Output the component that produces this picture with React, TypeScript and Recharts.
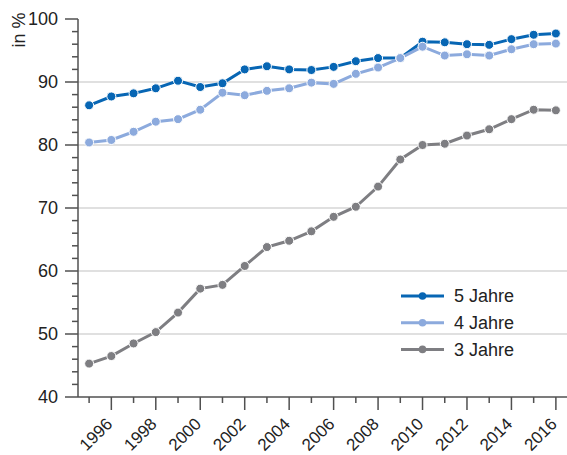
import React from 'react';
import { LineChart, Line, XAxis, YAxis, ReferenceLine } from 'recharts';

const years = [1995, 1996, 1997, 1998, 1999, 2000, 2001, 2002, 2003, 2004, 2005, 2006, 2007, 2008, 2009, 2010, 2011, 2012, 2013, 2014, 2015, 2016];
const fiveYears = [86.3, 87.7, 88.2, 89.0, 90.2, 89.2, 89.8, 92.0, 92.5, 92.0, 91.9, 92.4, 93.3, 93.8, 93.8, 96.4, 96.3, 96.0, 95.9, 96.8, 97.5, 97.7];
const fourYears = [80.4, 80.8, 82.1, 83.7, 84.1, 85.6, 88.3, 87.9, 88.6, 89.0, 89.9, 89.7, 91.3, 92.3, 93.8, 95.6, 94.2, 94.4, 94.2, 95.2, 96.0, 96.1];
const threeYears = [45.3, 46.5, 48.5, 50.3, 53.4, 57.2, 57.8, 60.8, 63.8, 64.8, 66.3, 68.6, 70.2, 73.4, 77.7, 80.0, 80.2, 81.5, 82.5, 84.1, 85.6, 85.5];
const yTicks = [40, 42, 44, 46, 48, 50, 52, 54, 56, 58, 60, 62, 64, 66, 68, 70, 72, 74, 76, 78, 80, 82, 84, 86, 88, 90, 92, 94, 96, 98, 100];
const gridValues = [50, 60, 70, 80, 90];
const yAxisLabel = 'in %';

const series = [
  { key: 'five', name: '5 Jahre', color: '#0766b4' },
  { key: 'four', name: '4 Jahre', color: '#8caadd' },
  { key: 'three', name: '3 Jahre', color: '#7e7e82' },
];

const data = years.map((year, i) => ({
  year,
  five: fiveYears[i],
  four: fourYears[i],
  three: threeYears[i],
}));

const AXIS = '#505050';
const TEXT = '#222222';
const FONT = '"Liberation Sans", Arial, sans-serif';

const XTick = (props: any) => {
  const { x, y, payload } = props;
  const major = payload.value % 2 === 0;
  const tx = x + 2;
  const ty = y + 28;
  return (
    <g>
      <line x1={x} x2={x} y1={y} y2={y + (major ? 13 : 6)} stroke={AXIS} strokeWidth={1.5} />
      {major && (
        <text
          x={tx}
          y={ty}
          textAnchor="end"
          fontSize={17}
          fontFamily={FONT}
          fill={TEXT}
          transform={`rotate(-45 ${tx} ${ty})`}
        >
          {payload.value}
        </text>
      )}
    </g>
  );
};

const YTick = (props: any) => {
  const { x, y, payload } = props;
  const major = payload.value % 10 === 0;
  return (
    <g>
      <line x1={x - (major ? 13 : 6)} x2={x} y1={y} y2={y} stroke={AXIS} strokeWidth={1.5} />
      {major && (
        <text x={x - 20} y={y} dy="0.36em" textAnchor="end" fontSize={18} fontFamily={FONT} fill={TEXT}>
          {payload.value}
        </text>
      )}
    </g>
  );
};

const LegendBox = () => (
  <g>
    <rect x={393} y={281} width={131} height={84} fill="#ffffff" />
    {series.map((s, i) => {
      const cy = 296 + i * 26.7;
      return (
        <g key={s.key}>
          <line x1={401} x2={444} y1={cy} y2={cy} stroke={s.color} strokeWidth={3} />
          <circle cx={422.5} cy={cy} r={3.8} fill={s.color} />
          <text x={454} y={cy} dy="0.36em" fontSize={18} fontFamily={FONT} fill={TEXT}>
            {s.name}
          </text>
        </g>
      );
    })}
  </g>
);

const AxisTitle = () => (
  <text
    x={25}
    y={30}
    textAnchor="middle"
    fontSize={18}
    fontFamily={FONT}
    fill={TEXT}
    transform="rotate(-90 25 30)"
  >
    {yAxisLabel}
  </text>
);

export default function App() {
  return (
    <div style={{ position: 'absolute', left: 0, top: 0, background: '#fff' }}>
      <LineChart width={567} height={455} data={data} margin={{ top: 19, right: 0, bottom: 0, left: 0 }}>
        {gridValues.map((v) => (
          <ReferenceLine key={v} y={v} stroke="#d6d6d6" strokeWidth={1.5} />
        ))}
        <XAxis
          dataKey="year"
          type="number"
          domain={[1994.5, 2016.5]}
          ticks={years}
          interval={0}
          tickSize={0}
          tickMargin={0}
          tick={<XTick />}
          height={58}
          axisLine={{ stroke: AXIS, strokeWidth: 1.5 }}
        />
        <YAxis
          type="number"
          domain={[40, 100]}
          ticks={yTicks}
          interval={0}
          width={78}
          tickSize={0}
          tickMargin={0}
          tick={<YTick />}
          axisLine={{ stroke: AXIS, strokeWidth: 1.5 }}
        />
        {series.map((s) => (
          <Line
            key={s.key}
            dataKey={s.key}
            name={s.name}
            stroke={s.color}
            strokeWidth={3}
            dot={{ r: 4.5, fill: s.color, stroke: '#ffffff', strokeWidth: 1 }}
            activeDot={false}
            isAnimationActive={false}
          />
        ))}
        <LegendBox />
        <AxisTitle />
      </LineChart>
    </div>
  );
}
